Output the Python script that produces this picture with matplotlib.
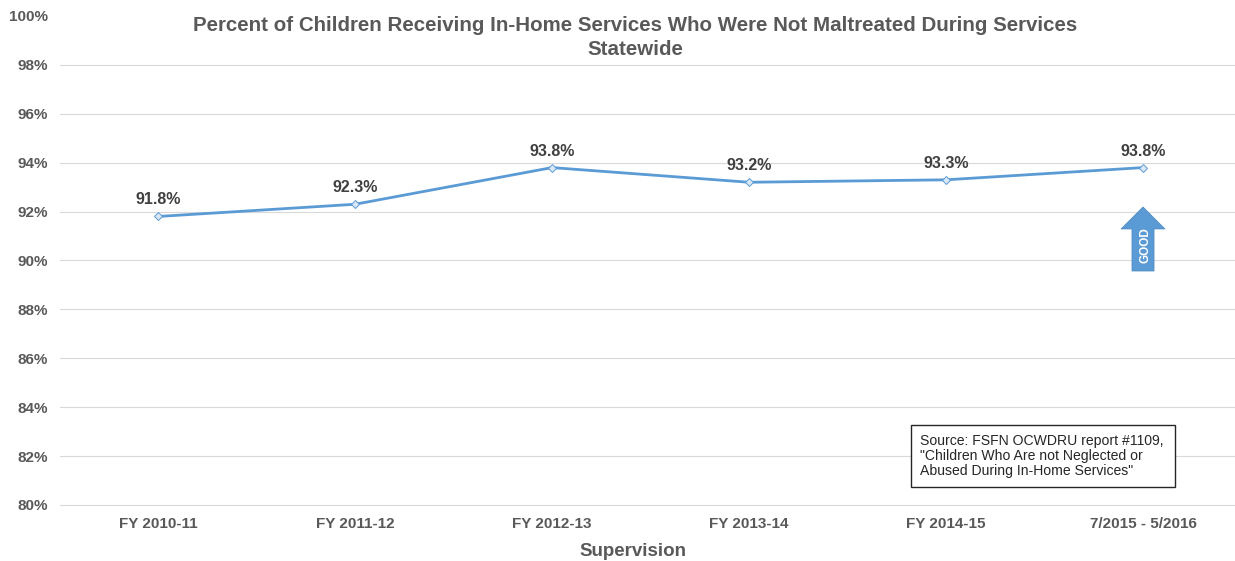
import matplotlib
matplotlib.use('Agg')
import matplotlib.pyplot as plt
from matplotlib.patches import FancyArrow, Rectangle

categories = ['FY 2010-11', 'FY 2011-12', 'FY 2012-13', 'FY 2013-14', 'FY 2014-15', '7/2015 - 5/2016']
percent = [91.8, 92.3, 93.8, 93.2, 93.3, 93.8]
yticks = list(range(80, 101, 2))

TITLE = 'Percent of Children Receiving In-Home Services Who Were Not Maltreated During Services\nStatewide'
SOURCE = 'Source: FSFN OCWDRU report #1109,\n"Children Who Are not Neglected or\nAbused During In-Home Services"'
GREY = '#595959'
BLUE = '#5B9BD5'

W, H = 1235, 561
plt.rcParams['font.family'] = ['Liberation Sans', 'DejaVu Sans']

fig = plt.figure(figsize=(W / 100, H / 100), dpi=100)
ax = fig.add_axes([60 / W, 1 - 505 / H, (W - 60) / W, 489 / H])

x = list(range(len(categories)))
ax.plot(x, percent, color=BLUE, lw=2, marker='D', ms=4.5, mfc='#DAE8F5', mec=BLUE, mew=0.7, zorder=3)
for xi, p in zip(x, percent):
    ax.annotate(f'{p:.1f}%', (xi, p), xytext=(0, 6.5), textcoords='offset points', ha='center', va='bottom',
                fontsize=11.5, fontweight='bold', color='#404040')

ax.set_xlim(-0.4975, 5.467)
ax.set_ylim(80, 100)
ax.set_xticks(x)
ax.set_xticklabels(categories)
ax.set_yticks(yticks)
ax.set_yticklabels([f'{t}%' for t in yticks])
ax.tick_params(length=0, labelcolor=GREY)
ax.tick_params(axis='y', pad=8.5)
ax.tick_params(axis='x', pad=9)
for lab in ax.get_xticklabels():
    lab.set_fontsize(11)
    lab.set_fontweight('bold')
for lab in ax.get_yticklabels():
    lab.set_fontsize(11)
    lab.set_fontweight('bold')
ax.grid(axis='y', color='#D9D9D9', lw=0.8)
ax.set_axisbelow(True)
# no line at the top of the scale, the bottom one sits on the edge
gridlines = ax.get_ygridlines()
gridlines[-1].set_visible(False)
gridlines[0].set_clip_on(False)
for s in ax.spines.values():
    s.set_visible(False)

# up arrow with GOOD label
ax.add_patch(FancyArrow(5, 89.57, 0, 2.62, width=0.112, head_width=0.223, head_length=0.9,
                        length_includes_head=True, fc=BLUE, ec='#4A86BE', lw=0.5, zorder=3))
ax.text(5.012, 90.63, 'GOOD', rotation=90, ha='center', va='center', color='white',
        fontsize=8.5, fontweight='bold', zorder=4)

fig.text(635 / W, 1 - 37.5 / H, TITLE, ha='center', va='center', fontsize=14.8, fontweight='bold',
         color=GREY, linespacing=1.3)
fig.text(633 / W, 1 - 551 / H, 'Supervision', ha='center', va='center', fontsize=13.5, fontweight='bold', color=GREY)

# source box
fig.add_artist(Rectangle((911 / W, 1 - 487 / H), 264 / W, 62 / H, transform=fig.transFigure,
                         fc='white', ec='#262626', lw=1, zorder=5))
fig.text(920 / W, 1 - 456 / H, SOURCE, ha='left', va='center', fontsize=10.05, color='#262626',
         linespacing=1.1, zorder=6)

fig.savefig('out.png', dpi=100)
